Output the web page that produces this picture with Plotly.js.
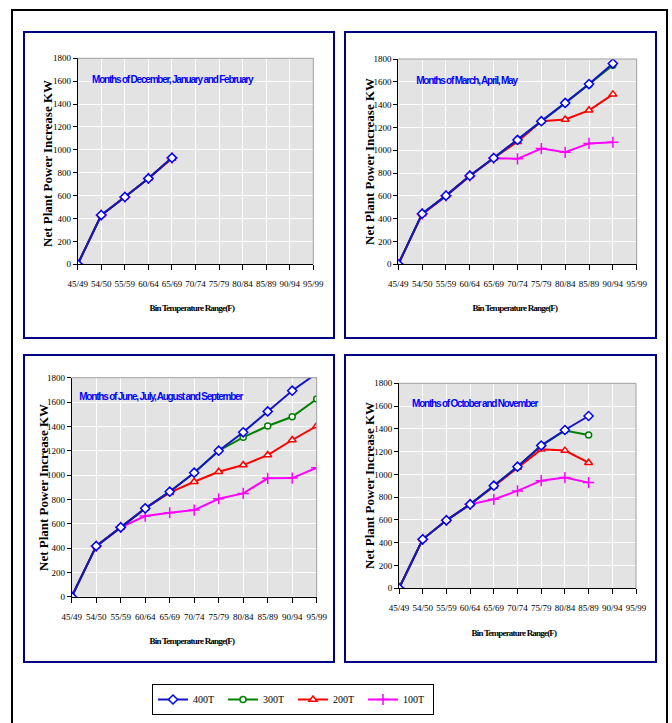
<!DOCTYPE html>
<html>
<head>
<meta charset="utf-8">
<script src="https://cdn.plot.ly/plotly-3.0.1.min.js"></script>
<style>
html,body{margin:0;padding:0;background:#fff;}
#chart{width:672px;height:723px;}
.infolayer g.annotation[data-index="0"] text,
.infolayer g.annotation[data-index="3"] text,
.infolayer g.annotation[data-index="6"] text,
.infolayer g.annotation[data-index="9"] text{letter-spacing:-1.2px;}
.infolayer g.annotation[data-index="2"] text,
.infolayer g.annotation[data-index="5"] text,
.infolayer g.annotation[data-index="8"] text,
.infolayer g.annotation[data-index="11"] text{letter-spacing:-0.8px;}
</style>
</head>
<body>
<div id="chart"></div>
<script>
// ---- DATA ----
const categories = ["45/49","54/50","55/59","60/64","65/69","70/74","75/79","80/84","85/89","90/94","95/99"];
const seriesNames = ["400T","300T","200T","100T"];
const panelTitles = [
  "Months of December, January and February",
  "Months of March, April, May",
  "Months of June, July, August and September",
  "Months of October and November"
];
const yTickVals = [0,200,400,600,800,1000,1200,1400,1600,1800];
const yAxisTitle = "Net Plant Power Increase KW";
const xAxisTitle = "Bin Temperature Range(F)";

// Dec/Jan/Feb
const dec400 = [0,430,588,750,930];
const dec300 = [0,430,588,750,930];
const dec200 = [0,430,588,750,925];
const dec100 = [0,430,588,750,930];
// Mar/Apr/May
const mar400 = [0,444,602,777,932,1090,1255,1415,1580,1760];
const mar300 = [0,444,602,777,932,1088,1252,1413,1575,1745];
const mar200 = [0,440,600,775,930,1075,1255,1270,1350,1490];
const mar100 = [0,440,600,775,930,925,1015,982,1060,1070];
// Jun/Jul/Aug/Sep
const jun400 = [0,416,570,726,863,1019,1200,1351,1523,1693,1836];
const jun300 = [0,416,570,726,863,1019,1200,1310,1403,1479,1625];
const jun200 = [0,416,570,726,855,945,1027,1082,1164,1288,1403];
const jun100 = [0,416,570,663,690,712,805,849,973,975,1060];
// Oct/Nov
const oct400 = [0,430,597,737,901,1068,1253,1390,1513];
const oct300 = [0,430,597,737,901,1068,1253,1385,1346];
const oct200 = [0,430,597,737,895,1060,1220,1209,1103];
const oct100 = [0,430,597,737,781,855,945,972,928];

const panels = [
  [dec400,dec300,dec200,dec100],
  [mar400,mar300,mar200,mar100],
  [jun400,jun300,jun200,jun100],
  [oct400,oct300,oct200,oct100]
];

// ---- STYLE ----
const W = 672, H = 723;
const styles = [
  {line:'#1414c8', mcol:'#0000ff', symbol:'diamond', size:7},
  {line:'#008000', mcol:'#008000', symbol:'circle', size:6},
  {line:'#ff0000', mcol:'#ff0000', symbol:'triangle-up', size:7},
  {line:'#ff00ff', mcol:'#ff00ff', symbol:'cross-thin', size:8}
];
// plot areas in px: [left,right,top,bottom]
const plotBoxes = [
  [77.7,313.3,58.3,264.3],
  [398.3,636.7,59,264.3],
  [71.7,316.7,377.7,596.7],
  [399,636,383.3,588.3]
];
const panelBoxes = [
  [24,334,32,338],
  [345,656,32,338],
  [24,334,355,662],
  [345,656,355,662]
];
const titlePos = [[172,79],[466,80],[160,396],[474,403]];
const yTitlePos = [[48,164],[369,162],[43,488],[369,486]];
const xTitlePos = [[192,308],[515,308],[192,641],[514,633]];

const serif = 'Liberation Serif, Times New Roman, serif';
const traces = [];
const layout = {
  width: W, height: H,
  margin: {l:0,r:0,t:0,b:0},
  paper_bgcolor: '#ffffff',
  plot_bgcolor: '#e3e3e3',
  showlegend: true,
  legend: {
    orientation: 'h', x: 152/W, y: 1-684/H, xanchor:'left', yanchor:'top',
    bgcolor:'#ffffff', bordercolor:'#000000', borderwidth:1,
    font:{family:serif, size:10, color:'#000'},
    entrywidth: 25, entrywidthmode:'pixels', itemwidth:30,
    traceorder:'normal'
  },
  shapes: [], annotations: []
};

for (let p = 0; p < 4; p++) {
  const sfx = p === 0 ? '' : String(p+1);
  const xa = 'x'+sfx, ya = 'y'+sfx;
  const b = plotBoxes[p];
  layout['xaxis'+sfx] = {
    domain:[b[0]/W, b[1]/W], anchor: ya, type:'category',
    categoryorder:'array', categoryarray: categories,
    tickmode:'array', tickvals: categories, ticktext: categories,
    range:[0, categories.length-1],
    showgrid:true, gridcolor:'#ffffff', gridwidth:1,
    showline:true, linecolor:'#000000', linewidth:1,
    ticks:'outside', ticklen:5, tickcolor:'#000000', tickwidth:1,
    ticklabelstandoff: 6,
    tickfont:{family:serif, size:9, color:'#000'},
    zeroline:false, fixedrange:true
  };
  layout['yaxis'+sfx] = {
    domain:[1-b[3]/H, 1-b[2]/H], anchor: xa,
    range:[0,1800], tickmode:'array', tickvals: yTickVals,
    showgrid:true, gridcolor:'#ffffff', gridwidth:1,
    showline:true, linecolor:'#000000', linewidth:1,
    ticks:'outside', ticklen:4, tickcolor:'#000000',
    tickfont:{family:serif, size:9, color:'#000'},
    zeroline:false, fixedrange:true
  };
  // gray plot-area border top/right
  layout.shapes.push({type:'line', xref:xa+' domain', yref:ya+' domain', x0:0, x1:1, y0:1, y1:1, line:{color:'#a0a0a0', width:1}, layer:'above'});
  layout.shapes.push({type:'line', xref:xa+' domain', yref:ya+' domain', x0:1, x1:1, y0:0, y1:1, line:{color:'#a0a0a0', width:1}, layer:'above'});
  // panel border
  const pb = panelBoxes[p];
  layout.shapes.push({type:'rect', xref:'paper', yref:'paper', x0:pb[0]/W, x1:pb[1]/W, y0:1-pb[3]/H, y1:1-pb[2]/H, line:{color:'#000080', width:2}, layer:'above'});
  // panel title
  layout.annotations.push({xref:'paper', yref:'paper', x:titlePos[p][0]/W, y:1-titlePos[p][1]/H, xanchor:'center', yanchor:'middle', showarrow:false,
    text: panelTitles[p], font:{family:'Liberation Sans, Arial, sans-serif', size:10, color:'#0000ff', weight:700}});
  layout.annotations.push({xref:'paper', yref:'paper', x:yTitlePos[p][0]/W, y:1-yTitlePos[p][1]/H, xanchor:'center', yanchor:'middle', showarrow:false,
    textangle:-90, text: yAxisTitle, font:{family:serif, size:13, color:'#000', weight:700}});
  layout.annotations.push({xref:'paper', yref:'paper', x:xTitlePos[p][0]/W, y:1-xTitlePos[p][1]/H, xanchor:'center', yanchor:'middle', showarrow:false,
    text: xAxisTitle, font:{family:serif, size:9, color:'#000', weight:700}});

  // draw order: 100T first, 400T last (on top)
  for (let s = 3; s >= 0; s--) {
    const vals = panels[p][s];
    const st = styles[s];
    traces.push({
      type:'scatter', mode:'lines+markers', xaxis:xa, yaxis:ya,
      x: categories.slice(0, vals.length), y: vals,
      name: seriesNames[s], legendgroup: seriesNames[s], legendrank: s+1,
      showlegend: p === 2,
      cliponaxis: true,
      line:{color:st.line, width:2},
      marker:{symbol:st.symbol, size:st.size, color: st.symbol==='cross-thin' ? st.mcol : '#ffffff',
        line:{color:st.mcol, width:1.5}}
    });
  }
}
// outer border
layout.shapes.push({type:'rect', xref:'paper', yref:'paper', x0:12/W, x1:667/W, y0:-0.01, y1:1-10/H, line:{color:'#000000', width:2}, layer:'above'});

Plotly.newPlot('chart', traces, layout, {staticPlot:true});
</script>
</body>
</html>
